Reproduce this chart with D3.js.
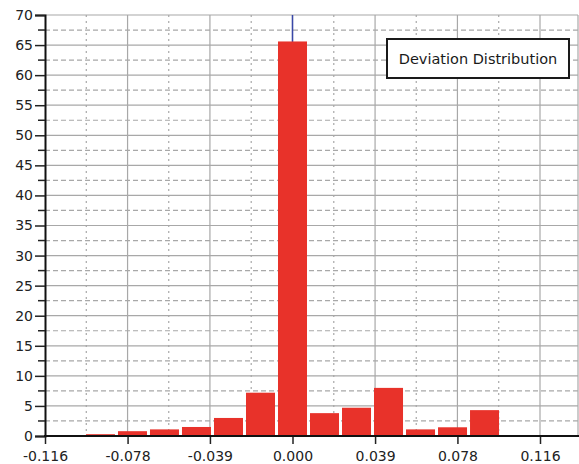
<!DOCTYPE html>
<html>
<head>
<meta charset="utf-8">
<script src="https://cdn.jsdelivr.net/npm/d3@7"></script>
<style>
  html, body { margin: 0; padding: 0; background: #fff; }
  svg { display: block; font-family: "DejaVu Sans", sans-serif; }
</style>
</head>
<body>
<svg id="chart" width="579" height="464"></svg>
<script>
(function () {
// ---- data ----
const binCenters = [-0.090, -0.075, -0.060, -0.045, -0.030, -0.015, 0.000, 0.015, 0.030, 0.045, 0.060, 0.075, 0.090];
const binCounts  = [0.3, 0.8, 1.1, 1.5, 3.0, 7.2, 65.6, 3.8, 4.7, 8.0, 1.1, 1.45, 4.3];
const binWidth = 0.015;
const xTickValues = [-0.116, -0.0773, -0.0387, 0.0, 0.0387, 0.0773, 0.116];
const xTickLabels = ["-0.116", "-0.078", "-0.039", "0.000", "0.039", "0.078", "0.116"];
const yTickValues = [0, 5, 10, 15, 20, 25, 30, 35, 40, 45, 50, 55, 60, 65, 70];
const legendLabel = "Deviation Distribution";

// ---- layout ----
const svg = d3.select("#chart");
const pLeft = 45, pRight = 578, pTop = 15, pBottom = 436;
const x = d3.scaleLinear().domain([-0.116, 0.116]).range([pLeft, 540]);
const y = d3.scaleLinear().domain([0, 70]).range([pBottom, pTop]);
const fontFam = "'DejaVu Sans', sans-serif";
const gridColor = "#a8a8a8";

const xMinor = [];
for (let i = 0; i < xTickValues.length; i++) {
  const a = xTickValues[i], b = i + 1 < xTickValues.length ? xTickValues[i + 1] : xTickValues[i] + 0.0387;
  xMinor.push((a + b) / 2);
}
const yMinor = yTickValues.slice(0, -1).map(v => v + 2.5);

svg.append("g").selectAll("line").data(yMinor).join("line")
  .attr("x1", pLeft).attr("x2", pRight)
  .attr("y1", d => y(d)).attr("y2", d => y(d))
  .attr("stroke", gridColor).attr("stroke-width", 1.2).attr("stroke-dasharray", "5,3");
svg.append("g").selectAll("line").data(xMinor.filter(v => x(v) < pRight)).join("line")
  .attr("x1", d => x(d)).attr("x2", d => x(d))
  .attr("y1", pTop).attr("y2", pBottom)
  .attr("stroke", gridColor).attr("stroke-width", 1.2).attr("stroke-dasharray", "2,4");

svg.append("g").selectAll("line").data(yTickValues.slice(1)).join("line")
  .attr("x1", pLeft).attr("x2", pRight)
  .attr("y1", d => y(d)).attr("y2", d => y(d))
  .attr("stroke", gridColor).attr("stroke-width", 1.2);
svg.append("g").selectAll("line").data(xTickValues.slice(1)).join("line")
  .attr("x1", d => x(d)).attr("x2", d => x(d))
  .attr("y1", pTop).attr("y2", pBottom)
  .attr("stroke", gridColor).attr("stroke-width", 1.2);
svg.append("line").attr("x1", pRight).attr("x2", pRight).attr("y1", pTop).attr("y2", pBottom)
  .attr("stroke", gridColor).attr("stroke-width", 1.2);

// blue zero line
svg.append("line").attr("x1", x(0)).attr("x2", x(0)).attr("y1", pTop).attr("y2", pBottom)
  .attr("stroke", "#3a48a8").attr("stroke-width", 1.5);

// bars
const gap = 1.5;
svg.append("g").selectAll("rect").data(binCenters).join("rect")
  .attr("x", d => x(d - binWidth / 2) + gap)
  .attr("width", d => x(d + binWidth / 2) - x(d - binWidth / 2) - 2 * gap)
  .attr("y", (d, i) => y(binCounts[i]))
  .attr("height", (d, i) => y(0) - y(binCounts[i]))
  .attr("fill", "#e8322a");

// y axis
const yAxis = d3.axisLeft(y).tickValues(yTickValues).tickSize(10).tickPadding(2).tickFormat(d3.format("d"));
const gy = svg.append("g").attr("transform", `translate(${pLeft},0)`).call(yAxis);
gy.select(".domain").attr("stroke", "#111").attr("stroke-width", 2);
gy.selectAll(".tick line").attr("stroke", "#222").attr("stroke-width", 1.5);
gy.selectAll(".tick text").attr("font-size", 14).attr("fill", "#222").attr("font-family", fontFam);
const gyMinor = svg.append("g").attr("transform", `translate(${pLeft},0)`);
gyMinor.selectAll("line").data(yMinor).join("line")
  .attr("x1", -7).attr("x2", 0).attr("y1", d => y(d)).attr("y2", d => y(d))
  .attr("stroke", "#222").attr("stroke-width", 1.5);

// x axis
const xAxis = d3.axisBottom(x).tickValues(xTickValues).tickSize(8).tickPadding(7)
  .tickFormat((d, i) => xTickLabels[i]);
const gx = svg.append("g").attr("transform", `translate(0,${pBottom})`).call(xAxis);
gx.select(".domain").remove();
gx.append("line").attr("x1", pLeft - 1).attr("x2", pRight + 1).attr("y1", 0).attr("y2", 0)
  .attr("stroke", "#111").attr("stroke-width", 2);
gx.selectAll(".tick line").attr("stroke", "#222").attr("stroke-width", 1.5);
gx.selectAll(".tick text").attr("font-size", 14).attr("fill", "#222").attr("font-family", fontFam);

// legend box
const lg = svg.append("g");
lg.append("rect").attr("x", 387).attr("y", 39).attr("width", 182).attr("height", 39)
  .attr("fill", "#fff").attr("stroke", "#1a1a1a").attr("stroke-width", 2);
lg.append("text").attr("x", 478).attr("y", 64).attr("text-anchor", "middle")
  .attr("font-size", 14.5).attr("fill", "#1a1a1a").attr("font-family", fontFam).text(legendLabel);
})();
</script>
</body>
</html>
